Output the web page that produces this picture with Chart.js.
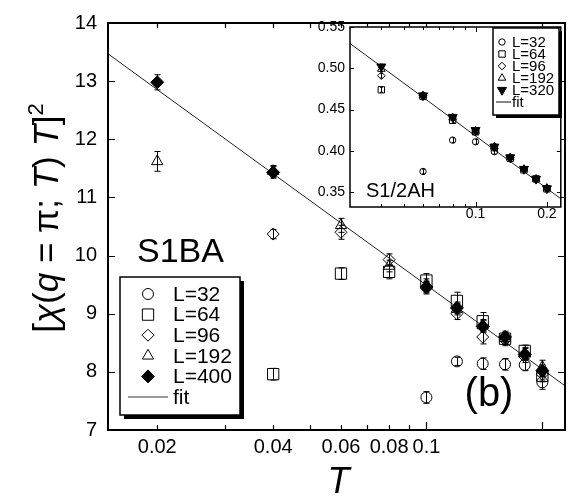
<!DOCTYPE html>
<html>
<head>
<meta charset="utf-8">
<title>[χ(q=π;T) T]² vs T</title>
<script src="https://cdn.jsdelivr.net/npm/chart.js@4/dist/chart.umd.min.js"></script>
<style>
  html, body { margin: 0; padding: 0; background: #fff; }
  #wrap { position: relative; width: 575px; height: 500px; }
  #main { position: absolute; left: 0; top: 0; z-index: 1; }
  #inset { position: absolute; left: 300px; top: 3px; z-index: 2; }
</style>
</head>
<body>
<div id="wrap">
  <canvas id="main" width="575" height="500"></canvas>
  <canvas id="inset" width="267" height="224"></canvas>
</div>
<script>
const FONT = '"Liberation Sans", Arial, Helvetica, sans-serif';

// ---------- main panel: S1BA, [chi(q=pi;T) T]^2 versus T ----------
const temps   = [0.02, 0.04, 0.06, 0.08, 0.1, 0.12, 0.14, 0.16, 0.18, 0.2];
const chiL32  = [null, null, null, null, 7.56, 8.18, 8.14, 8.13, 8.12, 7.82];
const errL32  = [null, null, null, null, 0.10, 0.07, 0.10, 0.10, 0.10, 0.12];
const chiL64  = [null, 7.96, 9.69, 9.72, 9.57, 9.22, 8.87, 8.57, 8.36, 7.93];
const errL64  = [null, 0.10, 0.10, 0.12, 0.12, 0.15, 0.15, 0.10, 0.10, 0.10];
const chiL96  = [null, 10.37, 10.40, 9.93, 9.44, 9.00, 8.60, 8.55, 8.26, 7.96];
const errL96  = [null, 0.08, 0.12, 0.10, 0.10, 0.10, 0.12, 0.10, 0.10, 0.10];
const chiL192 = [11.62, 11.45, 10.52, 9.82, 9.50, 9.08, 8.80, 8.58, 8.32, 8.08];
const errL192 = [0.17, 0.10, 0.12, 0.10, 0.10, 0.10, 0.10, 0.10, 0.10, 0.12];
const chiL400 = [12.98, 11.43, null, null, 9.46, 9.10, 8.78, 8.60, 8.30, 8.02];
const errL400 = [0.13, 0.10, null, null, 0.10, 0.10, 0.10, 0.10, 0.10, 0.10];
const fitT    = [0.0149, 0.229];
const fitChi  = [13.47, 7.76];

const xTickVals   = [0.02, 0.03, 0.04, 0.05, 0.06, 0.07, 0.08, 0.09, 0.1, 0.2];
const xMajorVals  = [0.1, 0.2];
const xTickLabels = ['0.02', '0.04', '0.06', '0.08', '0.1'];
const yTickVals   = [7, 8, 9, 10, 11, 12, 13, 14];

// ---------- inset: S1/2AH ----------
const insetTemps = [0.04, 0.06, 0.08, 0.1, 0.12, 0.14, 0.16, 0.18, 0.2];
const hL32   = [null, 0.375, 0.413, 0.411, 0.399, null, null, null, null];
const hL64   = [0.474, 0.466, 0.437, 0.423, 0.404, 0.391, 0.377, 0.366, 0.354];
const hL96   = [0.491, 0.467, 0.441, 0.424, 0.405, 0.392, 0.378, 0.366, 0.355];
const hL192  = [0.499, 0.467, 0.440, 0.424, 0.405, 0.392, 0.378, 0.366, 0.355];
const hL320  = [0.502, 0.467, 0.441, 0.425, 0.405, 0.392, 0.378, 0.366, 0.3545];
const hErr   = [0.003, 0.003, 0.003, 0.003, 0.003, 0.003, 0.003, 0.003, 0.003];
const insetFitT   = [0.0295, 0.229];
const insetFitVal = [0.530, 0.342];

const insetXTickVals   = [0.04, 0.05, 0.06, 0.07, 0.08, 0.09, 0.1, 0.2];
const insetXMajorVals  = [0.1, 0.2];
const insetXTickLabels = ['0.1', '0.2'];
const insetYTickVals   = [0.35, 0.40, 0.45, 0.50, 0.55];

// ---------- helpers ----------
function series(xs, ys, es) {
  const out = [];
  xs.forEach((x, i) => {
    if (ys[i] !== null && ys[i] !== undefined) out.push({ x: x, y: ys[i], e: es ? es[i] : 0 });
  });
  return out;
}

function sameVal(a, b) { return Math.abs(a - b) < 1e-9 * Math.max(1, Math.abs(b)); }

function labelFor(list) {
  return v => {
    const hit = list.find(s => sameVal(Number(s), v));
    return hit === undefined ? '' : hit;
  };
}

// marker geometry follows Chart.js point styles
function drawMarker(ctx, style, r, x, y, filled, rotation) {
  ctx.beginPath();
  if (style === 'circle') {
    ctx.arc(x, y, r, 0, Math.PI * 2);
  } else if (style === 'rect') {
    const s = Math.SQRT1_2 * r;
    ctx.rect(x - s, y - s, 2 * s, 2 * s);
  } else if (style === 'rectRot') {
    ctx.moveTo(x - r, y); ctx.lineTo(x, y - r); ctx.lineTo(x + r, y); ctx.lineTo(x, y + r);
    ctx.closePath();
  } else if (style === 'triangle') {
    let rad = (rotation || 0) * Math.PI / 180;
    ctx.moveTo(x + Math.sin(rad) * r, y - Math.cos(rad) * r);
    rad += 2 * Math.PI / 3;
    ctx.lineTo(x + Math.sin(rad) * r, y - Math.cos(rad) * r);
    rad += 2 * Math.PI / 3;
    ctx.lineTo(x + Math.sin(rad) * r, y - Math.cos(rad) * r);
    ctx.closePath();
  }
  ctx.fillStyle = filled ? '#000' : 'rgba(0,0,0,0)';
  ctx.fill();
  ctx.strokeStyle = '#000';
  ctx.lineWidth = 1;
  ctx.stroke();
}

function drawErrorBars(chart, cap) {
  const ctx = chart.ctx, ys = chart.scales.y;
  ctx.save();
  ctx.strokeStyle = '#000';
  ctx.lineWidth = 1;
  chart.data.datasets.forEach((ds, di) => {
    if (ds.showLine) return;
    const meta = chart.getDatasetMeta(di);
    ds.data.forEach((p, i) => {
      if (!p.e) return;
      const el = meta.data[i];
      const x = Math.round(el.x) + 0.5;
      const top = ys.getPixelForValue(p.y + p.e);
      const bot = ys.getPixelForValue(p.y - p.e);
      ctx.beginPath();
      ctx.moveTo(x, top); ctx.lineTo(x, bot);
      ctx.moveTo(x - cap, top); ctx.lineTo(x + cap, top);
      ctx.moveTo(x - cap, bot); ctx.lineTo(x + cap, bot);
      ctx.stroke();
    });
  });
  ctx.restore();
}

// frame with inward ticks on all four sides
function drawFrame(chart, cfg) {
  const ctx = chart.ctx, a = chart.chartArea;
  const xs = chart.scales.x, ys = chart.scales.y;
  ctx.save();
  ctx.strokeStyle = '#000';
  ctx.lineWidth = cfg.tickWidth;
  ctx.beginPath();
  cfg.xTicks.forEach(v => {
    const px = Math.round(xs.getPixelForValue(v)) + 0.5;
    const len = cfg.xMajor.some(m => sameVal(m, v)) ? cfg.majorLen : cfg.minorLen;
    ctx.moveTo(px, a.bottom); ctx.lineTo(px, a.bottom - len);
    ctx.moveTo(px, a.top); ctx.lineTo(px, a.top + len);
  });
  cfg.yTicks.forEach(v => {
    const py = Math.round(ys.getPixelForValue(v)) + 0.5;
    ctx.moveTo(a.left, py); ctx.lineTo(a.left + cfg.yLen, py);
    ctx.moveTo(a.right, py); ctx.lineTo(a.right - cfg.yLen, py);
  });
  ctx.stroke();
  ctx.lineWidth = cfg.frameWidth;
  ctx.strokeRect(a.left, a.top, a.right - a.left, a.bottom - a.top);
  ctx.restore();
}

function drawLegend(ctx, box, rows, cfg) {
  ctx.save();
  ctx.fillStyle = '#000';
  ctx.fillRect(box.x + cfg.shadow, box.y + cfg.shadow, box.w, box.h);
  ctx.fillStyle = '#fff';
  ctx.fillRect(box.x, box.y, box.w, box.h);
  ctx.strokeStyle = '#000';
  ctx.lineWidth = 1.5;
  ctx.strokeRect(box.x, box.y, box.w, box.h);
  ctx.font = cfg.fontSize + 'px ' + FONT;
  ctx.textBaseline = 'middle';
  ctx.textAlign = 'left';
  rows.forEach((ds, i) => {
    const y = cfg.firstY + i * cfg.step;
    if (ds.showLine) {
      ctx.strokeStyle = cfg.lineColor;
      ctx.lineWidth = cfg.lineWidth;
      ctx.beginPath();
      ctx.moveTo(cfg.lineX0, y); ctx.lineTo(cfg.lineX1, y);
      ctx.stroke();
    } else {
      drawMarker(ctx, ds.pointStyle, ds.pointRadius, cfg.markX, y, ds.filled, ds.rotation);
    }
    ctx.fillStyle = '#000';
    ctx.fillText(ds.label, cfg.textX, y + 1);
  });
  ctx.restore();
}

function drawYTitle(ctx, cx, cy) {
  const base = 35, sup = 22;
  const segs = [
    { t: '[' }, { t: 'χ', it: true }, { t: '(' }, { t: 'q', it: true },
    { t: ' = π; ' }, { t: 'T', it: true }, { t: ') ' }, { t: 'T', it: true },
    { t: ']' }, { t: '2', sup: true }
  ];
  const fontOf = s => (s.it ? 'italic ' : '') + (s.sup ? sup : base) + 'px ' + FONT;
  ctx.save();
  let total = 0;
  segs.forEach(s => { ctx.font = fontOf(s); s.w = ctx.measureText(s.t).width; total += s.w; });
  ctx.translate(cx, cy);
  ctx.rotate(-Math.PI / 2);
  ctx.fillStyle = '#000';
  ctx.textAlign = 'left';
  ctx.textBaseline = 'alphabetic';
  let x = -total / 2;
  segs.forEach(s => { ctx.font = fontOf(s); ctx.fillText(s.t, x, s.sup ? -15 : 0); x += s.w; });
  ctx.restore();
}

function pointSet(label, data, style, r, filled, rotation) {
  return {
    label: label, data: data, showLine: false,
    pointStyle: style, pointRadius: r, pointHoverRadius: r, rotation: rotation || 0,
    pointBorderWidth: 1, borderColor: '#000',
    pointBackgroundColor: filled ? '#000' : 'rgba(0,0,0,0)',
    backgroundColor: filled ? '#000' : 'rgba(0,0,0,0)',
    filled: !!filled
  };
}

function lineSet(label, data, width) {
  return {
    label: label, data: data, showLine: true, pointRadius: 0, pointHoverRadius: 0,
    borderColor: '#222', borderWidth: width, fill: false, order: 10
  };
}

// ---------- main chart ----------
const mainDatasets = [
  pointSet('L=32',  series(temps, chiL32,  errL32),  'circle',  5.5, false),
  pointSet('L=64',  series(temps, chiL64,  errL64),  'rect',    8,   false),
  pointSet('L=96',  series(temps, chiL96,  errL96),  'rectRot', 6,   false),
  pointSet('L=192', series(temps, chiL192, errL192), 'triangle', 6.5, false),
  pointSet('L=400', series(temps, chiL400, errL400), 'rectRot', 6.5, true),
  lineSet('fit', series(fitT, fitChi), 1)
];

const mainDecor = {
  id: 'mainDecor',
  afterDatasetsDraw(chart) { drawErrorBars(chart, 3); },
  afterDraw(chart) {
    const ctx = chart.ctx, a = chart.chartArea;
    drawFrame(chart, {
      xTicks: xTickVals, xMajor: xMajorVals, yTicks: yTickVals,
      minorLen: 5, majorLen: 8, yLen: 7, tickWidth: 1.2, frameWidth: 2
    });
    drawYTitle(ctx, 58, 218);
    ctx.save();
    ctx.fillStyle = '#000';
    ctx.textAlign = 'center';
    ctx.textBaseline = 'alphabetic';
    ctx.font = 'italic 36px ' + FONT;
    ctx.fillText('T', (a.left + a.right) / 2 + 2, 493);
    ctx.textAlign = 'left';
    ctx.font = '34px ' + FONT;
    ctx.fillText('S1BA', 137, 262);
    ctx.textAlign = 'center';
    ctx.font = '40px ' + FONT;
    ctx.fillText('(b)', 489, 406);
    ctx.restore();
    drawLegend(ctx, { x: 120, y: 277, w: 120, h: 138 }, chart.data.datasets, {
      shadow: 4, fontSize: 21, firstY: 294, step: 20.6,
      markX: 148, textX: 173, lineX0: 128, lineX1: 168, lineColor: '#777', lineWidth: 1.5
    });
  }
};

new Chart(document.getElementById('main'), {
  type: 'scatter',
  data: { datasets: mainDatasets },
  options: {
    responsive: false, animation: false, events: [],
    layout: { padding: { top: 14, right: 10, left: 0, bottom: 0 } },
    plugins: { legend: { display: false }, tooltip: { enabled: false } },
    scales: {
      x: {
        type: 'logarithmic', min: 0.0149, max: 0.229,
        afterBuildTicks: s => { s.ticks = xTickVals.map(v => ({ value: v })); },
        afterFit: s => { s.height = 70; },
        grid: { display: false, drawTicks: false }, border: { display: false },
        ticks: {
          autoSkip: false, maxRotation: 0, minRotation: 0, padding: 5, color: '#000',
          font: { family: FONT, size: 20 }, callback: labelFor(xTickLabels)
        }
      },
      y: {
        type: 'linear', min: 7, max: 14,
        afterBuildTicks: s => { s.ticks = yTickVals.map(v => ({ value: v })); },
        afterFit: s => { s.width = 108; },
        grid: { display: false, drawTicks: false }, border: { display: false },
        ticks: { padding: 11, color: '#000', font: { family: FONT, size: 20 } }
      }
    }
  },
  plugins: [mainDecor]
});

// ---------- inset chart ----------
const insetDatasets = [
  pointSet('L=32',  series(insetTemps, hL32,  hErr), 'circle',   3.2, false),
  pointSet('L=64',  series(insetTemps, hL64,  hErr), 'rect',     4.5, false),
  pointSet('L=96',  series(insetTemps, hL96,  hErr), 'rectRot',  3.8, false),
  pointSet('L=192', series(insetTemps, hL192, hErr), 'triangle', 4.4, false),
  pointSet('L=320', series(insetTemps, hL320, hErr), 'triangle', 5.2, true, 180),
  lineSet('fit', series(insetFitT, insetFitVal), 1)
];

const insetDecor = {
  id: 'insetDecor',
  beforeDatasetsDraw(chart) {
    const ctx = chart.ctx, a = chart.chartArea;
    ctx.save();
    ctx.fillStyle = '#fff';
    ctx.fillRect(a.left, a.top, a.right - a.left, a.bottom - a.top);
    ctx.restore();
  },
  afterDatasetsDraw(chart) { drawErrorBars(chart, 1.5); },
  afterDraw(chart) {
    const ctx = chart.ctx;
    drawFrame(chart, {
      xTicks: insetXTickVals, xMajor: insetXMajorVals, yTicks: insetYTickVals,
      minorLen: 3, majorLen: 5, yLen: 4, tickWidth: 1, frameWidth: 1.5
    });
    ctx.save();
    ctx.fillStyle = '#000';
    ctx.textAlign = 'left';
    ctx.textBaseline = 'alphabetic';
    ctx.font = '20px ' + FONT;
    ctx.fillText('S1/2AH', 66, 194);
    ctx.restore();
    drawLegend(ctx, { x: 193, y: 25, w: 66, h: 87 }, chart.data.datasets, {
      shadow: 3, fontSize: 15, firstY: 39, step: 12,
      markX: 202, textX: 212, lineX0: 196, lineX1: 211, lineColor: '#333', lineWidth: 1.2
    });
  }
};

new Chart(document.getElementById('inset'), {
  type: 'scatter',
  data: { datasets: insetDatasets },
  options: {
    responsive: false, animation: false, events: [],
    layout: { padding: { top: 24, right: 4, left: 0, bottom: 0 } },
    plugins: { legend: { display: false }, tooltip: { enabled: false } },
    scales: {
      x: {
        type: 'logarithmic', min: 0.0295, max: 0.229,
        afterBuildTicks: s => { s.ticks = insetXTickVals.map(v => ({ value: v })); },
        afterFit: s => { s.height = 20; },
        grid: { display: false, drawTicks: false }, border: { display: false },
        ticks: {
          autoSkip: false, maxRotation: 0, minRotation: 0, padding: 0, color: '#000',
          font: { family: FONT, size: 14, lineHeight: 1 }, callback: labelFor(insetXTickLabels)
        }
      },
      y: {
        type: 'linear', min: 0.332, max: 0.55,
        afterBuildTicks: s => { s.ticks = insetYTickVals.map(v => ({ value: v })); },
        afterFit: s => { s.width = 50; },
        grid: { display: false, drawTicks: false }, border: { display: false },
        ticks: {
          padding: 5, color: '#000', font: { family: FONT, size: 14 },
          callback: v => Number(v).toFixed(2)
        }
      }
    }
  },
  plugins: [insetDecor]
});
</script>
</body>
</html>
